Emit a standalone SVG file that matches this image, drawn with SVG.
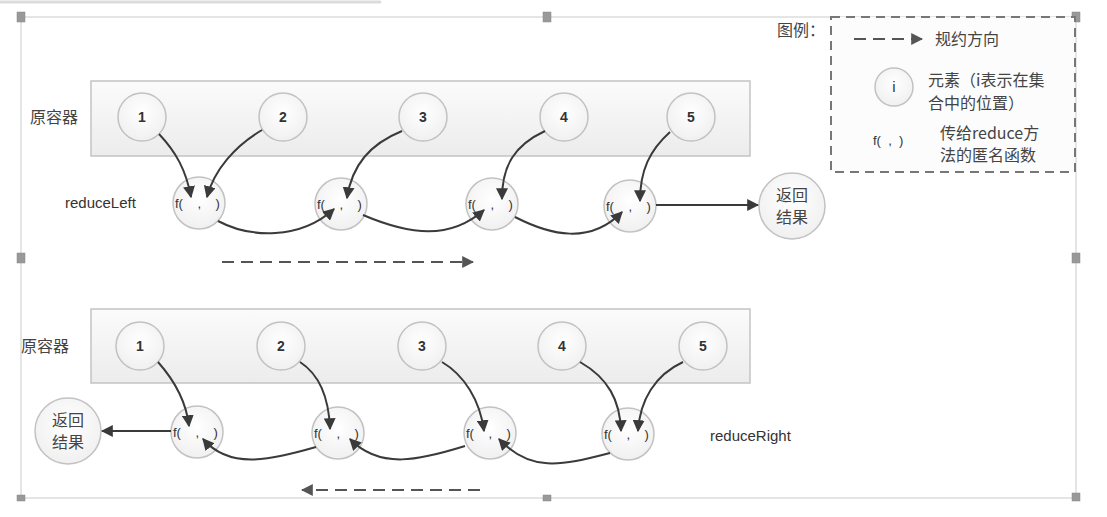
<svg xmlns="http://www.w3.org/2000/svg" width="1107" height="517" viewBox="0 0 1107 517">
<defs>
  <linearGradient id="gBox" x1="0" y1="0" x2="0" y2="1">
    <stop offset="0" stop-color="#fbfbfb"/>
    <stop offset="1" stop-color="#ececec"/>
  </linearGradient>
  <radialGradient id="gCirc" cx="0.5" cy="0.4" r="0.6">
    <stop offset="0" stop-color="#ffffff"/>
    <stop offset="1" stop-color="#f0f0f0"/>
  </radialGradient>
  <marker id="ah" viewBox="0 0 10 10" refX="9" refY="5" markerWidth="6" markerHeight="6" orient="auto" markerUnits="strokeWidth">
    <path d="M0,0 L10,5 L0,10 z" fill="#3a3a3a"/>
  </marker>
  <marker id="ahd" viewBox="0 0 10 10" refX="9" refY="5" markerWidth="6" markerHeight="6" orient="auto" markerUnits="strokeWidth">
    <path d="M0,0 L10,5 L0,10 z" fill="#555"/>
  </marker>
</defs>
<style>
  .box{fill:url(#gBox);stroke:#c4c4c4;stroke-width:1.5}
  .c{fill:url(#gCirc);stroke:#c2c2c2;stroke-width:1.5}
  .num{font-family:"Liberation Sans",Arial,sans-serif;font-size:14px;font-weight:bold;fill:#333;text-anchor:middle}
  .f{font-family:"Liberation Sans",Arial,sans-serif;font-size:13px;fill:#333;white-space:pre}
  .lbl{font-family:"Noto Sans CJK SC","Liberation Sans",sans-serif;font-size:16px;fill:#444}
  .lat{font-family:"Liberation Sans",Arial,sans-serif;font-size:15px;fill:#333}
  .conn{fill:none;stroke:#3a3a3a;stroke-width:2;marker-end:url(#ah)}
  .dash{fill:none;stroke:#555;stroke-width:2;stroke-dasharray:12,7;marker-end:url(#ahd)}
  .handle{fill:#999;stroke:#888;stroke-width:0.5}
  .frame{fill:none;stroke:#ddd;stroke-width:1.5}
</style>
<rect width="1107" height="517" fill="#ffffff"/>
<path d="M0,2 L380,2" stroke="#dcdcdc" stroke-width="3" stroke-linecap="round"/>

<g id="frame">
  <rect class="frame" x="21" y="17" width="1055" height="481"/>
  <rect class="handle" x="17" y="12" width="8" height="10"/>
  <rect class="handle" x="543" y="12" width="8" height="10"/>
  <rect class="handle" x="1072" y="12" width="8" height="10"/>
  <rect class="handle" x="17" y="253" width="8" height="10"/>
  <rect class="handle" x="1072" y="253" width="8" height="10"/>
  <rect class="handle" x="17" y="495" width="8" height="6"/>
  <rect class="handle" x="543" y="495" width="8" height="6"/>
  <rect class="handle" x="1072" y="493" width="8" height="8"/>
</g>

<g id="top-container">
  <rect class="box" x="91" y="81" width="659" height="75"/>
  <text class="lbl" x="30" y="123" font-size="17">原容器</text>
</g>
<g id="t1"><circle class="c" cx="142" cy="117" r="24"/><text class="num" x="142" y="122">1</text></g>
<g id="t2"><circle class="c" cx="283" cy="117" r="24"/><text class="num" x="283" y="122">2</text></g>
<g id="t3"><circle class="c" cx="423" cy="117" r="24"/><text class="num" x="423" y="122">3</text></g>
<g id="t4"><circle class="c" cx="564" cy="117" r="24"/><text class="num" x="564" y="122">4</text></g>
<g id="t5"><circle class="c" cx="691" cy="117" r="24"/><text class="num" x="691" y="122">5</text></g>

<g id="tf1"><circle class="c" cx="199" cy="203" r="26"/><text class="f" x="175" y="208">f(    ,    )</text></g>
<g id="tf2"><circle class="c" cx="341" cy="204" r="26"/><text class="f" x="317" y="209">f(    ,    )</text></g>
<g id="tf3"><circle class="c" cx="492" cy="204" r="26"/><text class="f" x="468" y="209">f(    ,    )</text></g>
<g id="tf4"><circle class="c" cx="630" cy="206" r="26"/><text class="f" x="606" y="211">f(    ,    )</text></g>
<g id="tres"><circle class="c" cx="792" cy="206" r="33"/>
  <text class="lbl" x="792" y="201" text-anchor="middle">返回</text>
  <text class="lbl" x="792" y="223" text-anchor="middle">结果</text></g>
<g id="reduceLeft-label"><text class="lat" x="65" y="208">reduceLeft</text></g>

<g id="bottom-container">
  <rect class="box" x="91" y="309" width="659" height="74"/>
  <text class="lbl" x="21" y="352" font-size="17">原容器</text>
</g>
<g id="b1"><circle class="c" cx="140" cy="346" r="24"/><text class="num" x="140" y="351">1</text></g>
<g id="b2"><circle class="c" cx="281" cy="346" r="24"/><text class="num" x="281" y="351">2</text></g>
<g id="b3"><circle class="c" cx="422" cy="346" r="24"/><text class="num" x="422" y="351">3</text></g>
<g id="b4"><circle class="c" cx="562" cy="346" r="24"/><text class="num" x="562" y="351">4</text></g>
<g id="b5"><circle class="c" cx="703" cy="346" r="24"/><text class="num" x="703" y="351">5</text></g>

<g id="bf1"><circle class="c" cx="197" cy="432" r="26"/><text class="f" x="173" y="437">f(    ,    )</text></g>
<g id="bf2"><circle class="c" cx="338" cy="433" r="26"/><text class="f" x="314" y="438">f(    ,    )</text></g>
<g id="bf3"><circle class="c" cx="490" cy="433" r="26"/><text class="f" x="466" y="438">f(    ,    )</text></g>
<g id="bf4"><circle class="c" cx="628" cy="434" r="26"/><text class="f" x="604" y="439">f(    ,    )</text></g>
<g id="bres"><circle class="c" cx="68" cy="431" r="33"/>
  <text class="lbl" x="68" y="426" text-anchor="middle">返回</text>
  <text class="lbl" x="68" y="448" text-anchor="middle">结果</text></g>
<g id="reduceRight-label"><text class="lat" x="710" y="441">reduceRight</text></g>

<g id="legend">
  <rect x="831" y="17" width="244" height="155" fill="#fcfcfc" stroke="#777" stroke-width="2" stroke-dasharray="9,6"/>
  <text class="lbl" x="777" y="36" font-size="15">图例：</text>
  <path class="dash" d="M854,39 L922,39" stroke-dasharray="10,6"/>
  <text class="lbl" x="935" y="45">规约方向</text>
  <circle class="c" cx="894" cy="87" r="19" stroke="#aaa"/>
  <text class="lat" x="894" y="92" text-anchor="middle">i</text>
  <text class="lbl" x="928" y="86">元素（i表示在集</text>
  <text class="lbl" x="928" y="109">合中的位置）</text>
  <text class="f" x="873" y="145">f(  ,  )</text>
  <text class="lbl" x="940" y="139">传给reduce方</text>
  <text class="lbl" x="940" y="161">法的匿名函数</text>
</g>

<g id="connectors">
  <!-- top -->
  <path class="conn" d="M159,134 C176,152 186,170 191,197"/>
  <path class="conn" d="M262,130 C235,146 214,170 207,197"/>
  <path class="conn" d="M218,221 C250,238 300,240 334,209"/>
  <path class="conn" d="M402,131 C370,144 352,165 347,198"/>
  <path class="conn" d="M363,215 C410,235 450,240 484,210"/>
  <path class="conn" d="M545,131 C515,145 502,165 502,199"/>
  <path class="conn" d="M515,217 C550,235 590,245 622,212"/>
  <path class="conn" d="M670,132 C650,150 640,170 640,201"/>
  <path class="conn" d="M656,205 L758,205"/>
  <path class="dash" d="M222,262 L473,262"/>
  <!-- bottom -->
  <path class="conn" d="M158,362 C174,380 186,400 189,426"/>
  <path class="conn" d="M300,362 C320,375 329,400 330,429"/>
  <path class="conn" d="M442,362 C464,375 480,400 484,431"/>
  <path class="conn" d="M580,362 C608,378 620,400 621,431"/>
  <path class="conn" d="M683,362 C655,375 640,400 638,431"/>
  <path class="conn" d="M610,453 C560,466 530,472 499,439"/>
  <path class="conn" d="M465,446 C420,460 380,470 350,439"/>
  <path class="conn" d="M316,447 C270,460 230,470 203,439"/>
  <path class="conn" d="M171,431 L102,431"/>
  <path class="dash" d="M480,490 L302,490"/>
</g>
</svg>
